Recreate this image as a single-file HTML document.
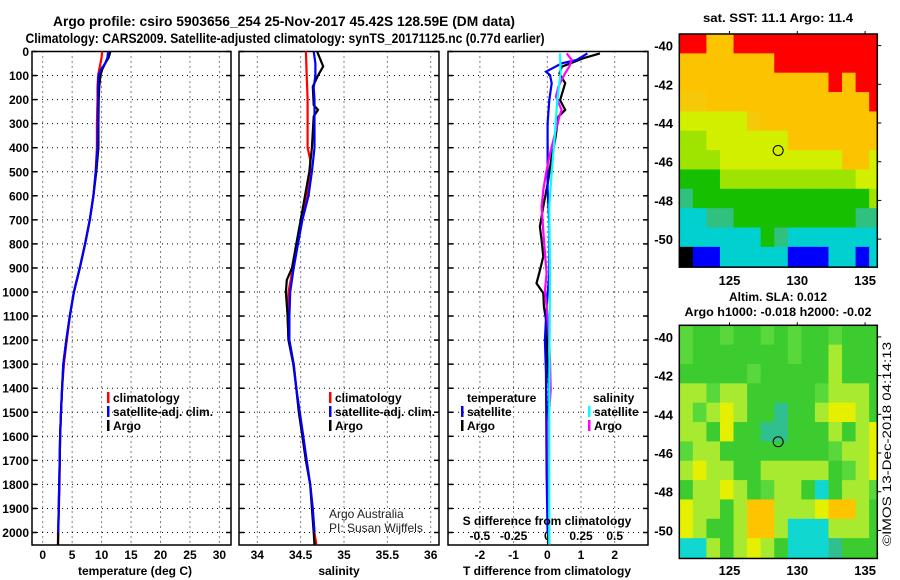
<!DOCTYPE html>
<html><head><meta charset="utf-8"><style>
html,body{margin:0;padding:0;background:#fff;}
svg{display:block;font-family:"Liberation Sans",Arial,sans-serif;}
.b{font-weight:bold;font-size:12px;fill:#000;}
</style></head><body>
<svg id="fig" width="900" height="580" viewBox="0 0 900 580" xmlns="http://www.w3.org/2000/svg">
<rect x="0" y="0" width="900" height="580" fill="#fff"/>
<text x="284" y="26" text-anchor="middle" class="b" style="font-size:14px" textLength="462" lengthAdjust="spacingAndGlyphs">Argo profile: csiro 5903656_254 25-Nov-2017 45.42S 128.59E (DM data)</text>
<text x="285" y="43" text-anchor="middle" class="b" style="font-size:14px" textLength="519" lengthAdjust="spacingAndGlyphs">Climatology: CARS2009. Satellite-adjusted climatology: synTS_20171125.nc (0.77d earlier)</text>
<g id="p1"></g>
<g id="p2"></g>
<g id="p3"></g>
<g id="m1"></g>
<g id="m2"></g>
<text x="778" y="22" text-anchor="middle" class="b" textLength="150" lengthAdjust="spacingAndGlyphs">sat. SST: 11.1 Argo: 11.4</text>
<text x="778" y="301" text-anchor="middle" class="b">Altim. SLA: 0.012</text>
<text x="778" y="316" text-anchor="middle" class="b" textLength="187" lengthAdjust="spacingAndGlyphs">Argo h1000: -0.018 h2000: -0.02</text>
<text transform="translate(891,546) rotate(-90)" style="font-size:12px" textLength="204" lengthAdjust="spacingAndGlyphs">©IMOS 13-Dec-2018 04:14:13</text>
<text x="329" y="518" style="font-size:12px;fill:#222">Argo Australia</text>
<text x="329" y="532" style="font-size:12px;fill:#222">PI: Susan Wijffels</text>
<text x="135" y="575" text-anchor="middle" class="b">temperature (deg C)</text>
<text x="339" y="575" text-anchor="middle" class="b">salinity</text>
<text x="547" y="575" text-anchor="middle" class="b">T difference from climatology</text>
<text x="547" y="525" text-anchor="middle" class="b">S difference from climatology</text>
</svg>
<script>
// ---------- profile data ----------
const depthTicks=[0,100,200,300,400,500,600,700,800,900,1000,1100,1200,1300,1400,1500,1600,1700,1800,1900,2000];
const tTicks=[0,5,10,15,20,25,30];
const sTicks=[34,34.5,35,35.5,36];
const sTickLabels=["34","34.5","35","35.5","36"];
const dTTicks=[-2,-1,0,1,2];
const dSTicks=[-0.5,-0.25,0,0.25,0.5];
const dSTickLabels=["-0.5","-0.25","0","0.25","0.5"];

const tDepth=[0,25,50,75,100,150,200,300,400,500,600,700,800,900,1000,1100,1200,1300,1400,1500,1600,1700,1800,1900,2000,2050];
const tArgo=[11.5,11.2,10.6,10.1,9.8,9.6,9.5,9.45,9.45,9.1,8.6,8.0,7.2,6.3,5.3,4.6,4.0,3.5,3.3,3.1,2.95,2.88,2.8,2.72,2.65,2.6];
const tClim=[10.1,10.0,9.8,9.6,9.4,9.3,9.3,9.2,9.2,9.0,8.6,8.0,7.2,6.3,5.3,4.6,4.1,3.6,3.3,3.1,2.95,2.9,2.85,2.75,2.6,2.6];
const tSatDepth=[0,25,50,75,100,150,200,300,400,500,600,700,800,900,1000,1100,1200,1300,1400,1500,1600,1700,1800,1900,2000];
const tSat=[11.1,11.0,10.6,9.9,9.45,9.4,9.4,9.35,9.3,9.0,8.6,8.0,7.2,6.3,5.3,4.6,4.0,3.5,3.3,3.1,2.95,2.88,2.8,2.72,2.65];

const sArgoDepth=[0,62,100,146,223,243,270,400,500,600,700,800,900,950,1000,1100,1200,1300,1400,1500,1600,1700,1800,1900,2000,2050];
const sArgo=[34.69,34.76,34.70,34.64,34.65,34.70,34.65,34.63,34.60,34.55,34.50,34.45,34.40,34.34,34.33,34.35,34.36,34.415,34.45,34.48,34.52,34.56,34.61,34.63,34.65,34.66];
const sClimDepth=[0,100,200,400,450,500,600,700,800,900,1000,1100,1200,1300,1400,1500,1600,1700,1800,1900,2000,2050];
const sClim=[34.56,34.57,34.58,34.58,34.61,34.61,34.57,34.51,34.46,34.41,34.36,34.35,34.36,34.42,34.45,34.48,34.52,34.56,34.61,34.635,34.66,34.68];
const sSatDepth=[0,50,100,150,200,300,400,500,600,700,800,900,1000,1100,1200,1300,1400,1500,1600,1700,1800,1900,2000];
const sSat=[34.65,34.67,34.67,34.65,34.66,34.66,34.66,34.63,34.59,34.52,34.47,34.42,34.38,34.37,34.37,34.42,34.45,34.49,34.53,34.57,34.61,34.64,34.66];

const dTArgoDepth=[8,28,63,91,132,202,243,271,368,437,534,645,728,784,853,922,964,1005,1061,1130,1269,1400,1600,1800,2050];
const dTArgo=[1.56,1.07,0.43,0.36,0.53,0.38,0.53,0.33,0.23,0.13,0.03,-0.12,-0.22,-0.17,-0.12,-0.24,-0.32,-0.12,-0.1,-0.02,0,0.05,0.02,0.02,0.03];
const dTSatDepth=[8,35,49,84,98,132,202,299,576,714,922,1061,1200,1338,1754,2000];
const dTSat=[1.19,0.87,0.43,-0.04,0.08,0.13,0.06,0.01,0.01,0.06,0.06,-0.02,-0.07,-0.04,-0.02,0.01];
const dSArgoDepth=[8,35,63,91,146,188,243,271,368,437,507,576,645,784,922,992,1130,1283,1408,1546,2001,2050];
const dSArgo=[0.144,0.181,0.163,0.131,0.082,0.064,0.106,0.089,0.045,0.015,-0.01,-0.03,-0.042,-0.025,-0.005,-0.017,0.007,0.02,0.025,0.007,0.015,0.015];
const dSSatDepth=[8,91,202,340,507,645,900,1400,2050];
const dSSat=[0.094,0.099,0.074,0.057,0.032,0.015,0.02,0.015,0.015];

// ---------- map data (1-degree cells, categories) ----------
const sstRows=[
"RROORRRRRRRRRRR",
"OOOOOOORRRRRRRR",
"OOOOOOOOOOOROR R".replace(" ",""),
"PPOOOOOOOOOOOOR",
"YYYYYPOOOOOOOOO",
"LLYYYYYYOOOOOOO",
"LLLYYYYYYYYYOOY",
"GGGLLLLLLLLLLYY",
"TGGGGGGGGGGGGGL",
"CCTTGGGGGGGGGTT",
"CCCCCCGTCCCCCCC",
"KBBCCCCCBBBCCBC"];
const slaRows=[
"gGGgGGgGgGGgGGG",
"gGGGGGGGgGGLGGG",
"GGGGGgGGGGGLGGG",
"LLgLLGGGGGgLLLG",
"LgLYLGGTGGLYYLG",
"LLGYGGTTGGGLGLY",
"gLLGGGGGGGGgLLY",
"LYLLGGLLLLLGgLY",
"GLLYLGgLLGCGLLg",
"YLLGLOOLLLYOOLG",
"YLGGLOOLCCCLLLG",
"CCLGLYLGCCCTGGG"];
const sstColors={R:"#ff0000",O:"#fcc300",P:"#f5c80a",Y:"#d2ef00",L:"#9ee400",G:"#16c000",T:"#30c080",C:"#00d0d0",B:"#0000ff",K:"#000000"};
const slaColors={G:"#3ccc30",g:"#58d83a",L:"#a8ea30",Y:"#e4f000",O:"#ffc400",C:"#10d8d0",T:"#30c090"};
const latTicks=[-40,-42,-44,-46,-48,-50];
const lonTicks=[125,130,135];
const floatLon=128.59, floatLat=-45.42;

const NS="http://www.w3.org/2000/svg";
function mk(parent,tag,attrs,text){const e=document.createElementNS(NS,tag);for(const k in attrs)e.setAttribute(k,attrs[k]);if(text!==undefined)e.textContent=text;parent.appendChild(e);return e;}

// axis functions
const Y0=51.5, YK=0.2405, YBOT=545;
const yD=d=>Y0+YK*d;
const xT=t=>42.7+5.89*t;
const xS=s=>257.3+86.7*(s-34);
const xDT=v=>547.3+33.7*v;
const xDS=v=>547.3+134.8*v;

function panel(g,x0,x1,name,gridX,labelX,labels){
  for(const d of depthTicks){
    const l=mk(g,"line",{x1:x0,x2:x1,y1:yD(d),y2:yD(d),stroke:"#000","stroke-width":1,"stroke-dasharray":"1 4"});
    
    
    const t1=mk(g,"line",{x1:x0,x2:x0+5,y1:yD(d),y2:yD(d),stroke:"#000","stroke-width":1.5});
    
    
    const t2=mk(g,"line",{x1:x1-5,x2:x1,y1:yD(d),y2:yD(d),stroke:"#000","stroke-width":1.5});
    
    
  }
  gridX.forEach((v,i)=>{
    const x=labelX(v);
    const l=mk(g,"line",{x1:x,x2:x,y1:Y0,y2:YBOT,stroke:"#000","stroke-width":1,"stroke-dasharray":"1 4"});
    
    
    const t=mk(g,"text",{x:x,y:559,"text-anchor":"middle",class:"b"},labels[i]);
    
    
  });
  const r=mk(g,"rect",{x:x0,y:Y0,width:x1-x0,height:YBOT-Y0,fill:"none",stroke:"#000","stroke-width":1.5});
  
  
}
function series(g,depths,vals,fx,color,name){
  const pts=depths.map((d,i)=>fx(vals[i]).toFixed(1)+","+yD(d).toFixed(1)).join(" ");
  const p=mk(g,"polyline",{points:pts,fill:"none",stroke:color,"stroke-width":2.2,"stroke-linejoin":"miter"});
  
  
}
function legend(g,x,y,color,label,name){
  const r=mk(g,"rect",{x:x,y:y-10,width:2.5,height:11,fill:color});
  
  
  const t=mk(g,"text",{x:x+6,y:y,class:"b"},label);
  
  
}

const p1=document.getElementById("p1"),p2=document.getElementById("p2"),p3=document.getElementById("p3");
panel(p1,32,231,"temperature",tTicks,xT,tTicks.map(String));
panel(p2,239,439,"salinity",sTicks,xS,sTickLabels);
panel(p3,448,648,"difference",dTTicks,xDT,dTTicks.map(String));
depthTicks.forEach(d=>{
  const t=mk(p1,"text",{x:29,y:yD(d)+4.5,"text-anchor":"end",class:"b"},String(d));
  
  
});
dSTicks.forEach((v,i)=>{
  const t=mk(p3,"text",{x:xDS(v),y:540,"text-anchor":"middle",class:"b"},dSTickLabels[i]);
  
  
});

series(p1,tDepth,tClim,xT,"#ff0000","temperature-climatology-line");
series(p1,tDepth,tArgo,xT,"#000000","temperature-argo-line");
series(p1,tSatDepth,tSat,xT,"#0000ff","temperature-satellite-line");
series(p2,sClimDepth,sClim,xS,"#ff0000","salinity-climatology-line");
series(p2,sArgoDepth,sArgo,xS,"#000000","salinity-argo-line");
series(p2,sSatDepth,sSat,xS,"#0000ff","salinity-satellite-line");
series(p3,dTArgoDepth,dTArgo,xDT,"#000000","t-diff-argo-line");
series(p3,dTSatDepth,dTSat,xDT,"#0000ff","t-diff-satellite-line");
series(p3,dSArgoDepth,dSArgo,xDS,"#ff00ff","s-diff-argo-line");
series(p3,dSSatDepth,dSSat,xDS,"#00ffff","s-diff-satellite-line");

legend(p1,107,402,"#ff0000","climatology","temperature-legend-climatology");
legend(p1,107,416,"#0000ff","satellite-adj. clim.","temperature-legend-satellite");
legend(p1,107,430,"#000000","Argo","temperature-legend-argo");
legend(p2,329,402,"#ff0000","climatology","salinity-legend-climatology");
legend(p2,329,416,"#0000ff","satellite-adj. clim.","salinity-legend-satellite");
legend(p2,329,430,"#000000","Argo","salinity-legend-argo");
(function(){const t=mk(p3,"text",{x:467,y:402,class:"b"},"temperature");
const s=mk(p3,"text",{x:593,y:402,class:"b"},"salinity");})();
legend(p3,461,416,"#0000ff","satellite","diff-legend-t-satellite");
legend(p3,461,430,"#000000","Argo","diff-legend-t-argo");
legend(p3,588,416,"#00ffff","satellite","diff-legend-s-satellite");
legend(p3,588,430,"#ff00ff","Argo","diff-legend-s-argo");

// ---------- maps ----------
const LON0=121.3, LON1=135.9, LAT0=-39.4, LAT1=-51.45;
function drawMap(g,top,rows,colors,name,xlabelY){
  const x0=679.3,x1=877.3,bot=top+(LAT0-LAT1)*19.35;
  const mx=lon=>x0+(lon-LON0)*(x1-x0)/(LON1-LON0);
  const my=lat=>top+(LAT0-lat)*19.35;
  const clip=mk(g,"clipPath",{id:name+"-clip"});
  mk(clip,"rect",{x:x0,y:top,width:x1-x0,height:bot-top});
  const cg=mk(g,"g",{"clip-path":"url(#"+name+"-clip)"});
  
  
  rows.forEach((row,j)=>{
    for(let i=0;i<row.length;i++){
      const lonA=LON0+i, latA=LAT0-j;
      const c=mk(cg,"rect",{x:mx(lonA),y:my(latA),width:mx(lonA+1)-mx(lonA)+0.5,height:my(latA-1)-my(latA)+0.5,fill:colors[row[i]]});
      
      
    }
  });
  const fr=mk(g,"rect",{x:x0,y:top,width:x1-x0,height:bot-top,fill:"none",stroke:"#000","stroke-width":1.5});
  
  
  latTicks.forEach(lat=>{
    const t=mk(g,"text",{x:673,y:my(lat)+5,"text-anchor":"end",class:"b",style:"font-size:13px"},String(lat));
    
    
    const k=mk(g,"line",{x1:x1,x2:x1+4,y1:my(lat),y2:my(lat),stroke:"#000"});
    
    
  });
  lonTicks.forEach(lon=>{
    const t=mk(g,"text",{x:mx(lon),y:xlabelY,"text-anchor":"middle",class:"b",style:"font-size:13px"},String(lon));
    
    
    const k=mk(g,"line",{x1:mx(lon),x2:mx(lon),y1:top-3,y2:top,stroke:"#000"});
    
    
  });
  const c=mk(g,"circle",{cx:mx(floatLon),cy:my(floatLat),r:5,fill:"none",stroke:"#000","stroke-width":1});
  
  
}
drawMap(document.getElementById("m1"),34,sstRows,sstColors,"sst-map",285);
drawMap(document.getElementById("m2"),325.3,slaRows,slaColors,"sla-map",575);
</script>
</body></html>
